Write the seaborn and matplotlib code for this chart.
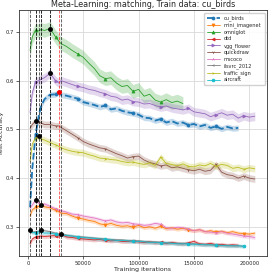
import numpy as np
import pandas as pd
import seaborn as sns
from matplotlib import pyplot as plt

# evaluation iterations (shared grid)
iters = [2000, 4000, 7000, 10000, 12000, 15000, 20000, 25000, 28000, 30000,
         35000, 40000, 45000, 50000, 55000, 60000, 65000, 70000, 75000, 80000,
         85000, 90000, 95000, 100000, 105000, 110000, 115000, 120000, 125000, 130000,
         135000, 140000, 145000, 150000, 155000, 160000, 165000, 170000, 175000, 180000,
         185000, 190000, 195000, 200000, 205000]

cu_birds = [.340, .420, .490, .530, .548, .562, .571, .572, .577, .571,
            .569, .566, .563, .556, .553, .550, .546, .549, .541, .543,
            .538, .535, .533, .530, .524, .523, .518, .521, .514, .517,
            .512, .514, .509, .511, .506, .509, .503, .506, .501, .505,
            .502, .503]
mini_imagenet = [.322, .335, .340, .342, .345, .341, .339, .334, .331, .328,
                 .327, .322, .318, .316, .313, .311, .306, .304, .307, .303,
                 .301, .302, .299, .303, .298, .300, .297, .301, .296, .298,
                 .295, .297, .294, .292, .294, .290, .292, .289, .291, .288,
                 .290, .287, .286, .285, .287]
omniglot = [.662, .690, .704, .702, .705, .703, .707, .690, .681, .676,
            .670, .662, .655, .648, .636, .625, .610, .604, .606, .595,
            .588, .590, .578, .582, .568, .572, .560, .556, .561, .555,
            .558, .553]
dtd = [.265, .275, .279, .280, .281, .280, .281, .282, .283, .285,
       .279, .278, .276, .275, .274, .273, .274, .272, .271, .272,
       .270, .270, .271, .269, .268, .269, .267, .268, .266, .268,
       .266, .265, .267, .270, .265, .264, .266, .263, .264, .262,
       .263, .262]
vgg_flower = [.535, .575, .598, .600, .603, .606, .615, .600, .595, .600,
              .596, .592, .588, .586, .582, .580, .576, .573, .568, .566,
              .560, .562, .557, .556, .552, .553, .549, .546, .548, .544,
              .542, .540, .543, .536, .534, .532, .526, .530, .534, .529,
              .531, .523, .528, .525, .527]
quickdraw = [.502, .510, .517, .515, .513, .510, .510, .507, .507, .504,
             .497, .490, .483, .475, .470, .466, .462, .460, .455, .450,
             .446, .441, .444, .445, .437, .432, .429, .425, .427, .421,
             .423, .420, .417, .415, .418, .414, .416, .428, .412, .407,
             .405, .400, .404, .400, .398]
mscoco = [.338, .345, .355, .348, .345, .347, .342, .337, .334, .333,
          .330, .326, .325, .322, .320, .318, .315, .312, .314, .310,
          .308, .309, .306, .305, .303, .304, .307, .305, .298, .297,
          .299, .298, .295, .292, .294, .290, .289, .288, .290, .287,
          .285, .283, .281, .280, .278]
ilsvrc_2012 = [.290, .289, .290, .291, .294, .292, .290, .287, .285, .284,
               .283, .281, .280, .279, .278, .277, .276, .275, .274, .273,
               .273, .272, .271, .271, .270, .269, .269, .268, .267, .267,
               .266, .266, .265, .265, .264, .264, .263, .263, .262, .262,
               .261, .261, .260]
traffic_sign = [.435, .470, .482, .487, .480, .478, .473, .468, .465, .462,
                .458, .455, .453, .452, .448, .445, .441, .440, .438, .437,
                .434, .432, .433, .430, .428, .431, .426, .443, .430, .428,
                .425, .429, .424, .423, .427, .425, .430, .424, .428, .426,
                .420, .422, .418, .421, .419]
aircraft = [.293, .288, .288, .290, .289, .287, .287, .285, .283, .284,
            .282, .281, .279, .278, .277, .276, .275, .274, .273, .272,
            .272, .271, .270, .270, .269, .268, .268, .267, .267, .266,
            .265, .265, .265, .264, .264, .263, .263, .262, .262, .261,
            .261, .261, .260]

names = ['cu_birds', 'mini_imagenet', 'omniglot', 'dtd', 'vgg_flower',
         'quickdraw', 'mscoco', 'ilsvrc_2012', 'traffic_sign', 'aircraft']
series = [cu_birds, mini_imagenet, omniglot, dtd, vgg_flower,
          quickdraw, mscoco, ilsvrc_2012, traffic_sign, aircraft]
# std over runs (shaded band)
spread = [.006, .004, .014, .004, .009, .007, .004, .003, .007, .004]
train_data = 'cu_birds'

rows = []
for name, vals, sd in zip(names, series, spread):
    for it, v in zip(iters, vals):
        for k in (-1, 0, 1):
            rows.append((name, it, v + k * sd))
df = pd.DataFrame(rows, columns=['dataset', 'iteration', 'accuracy'])

sns.set_theme(style='whitegrid', rc={'axes.edgecolor': '0.2', 'axes.linewidth': 0.6,
                                     'grid.color': '0.85', 'grid.linewidth': 0.6,
                                     'xtick.bottom': True, 'ytick.left': True,
                                     'xtick.major.size': 2, 'ytick.major.size': 2,
                                     'xtick.major.width': 0.5, 'ytick.major.width': 0.5})
plt.rcParams['font.family'] = ['DejaVu Sans']

colors = sns.color_palette('tab10', 10)
markers = ['o', 'v', '^', '<', '>', '1', '2', '3', '4', '8']

fig = plt.figure(figsize=(2.74, 2.73), dpi=100)
ax = fig.add_axes([19 / 274, 1 - 256 / 273, 248 / 274, 246 / 273])

for name, c, m in zip(names, colors, markers):
    sub = df[df.dataset == name]
    is_train = name == train_data
    sns.lineplot(data=sub, x='iteration', y='accuracy', errorbar='sd', ax=ax,
                 color=c, marker=m, markersize=2.2, markevery=(2, 5),
                 markeredgecolor=c, markeredgewidth=0.5,
                 linewidth=1.3 if is_train else 0.6,
                 linestyle='--' if is_train else '-',
                 label=name, err_kws={'alpha': 0.25, 'linewidth': 0})

# best iteration per dataset
for name, vals in zip(names, series):
    i = int(np.argmax(vals))
    col = 'red' if name == train_data else 'black'
    ax.axvline(iters[i], color=col, linestyle='--', linewidth=0.6, alpha=0.7)
    ax.plot(iters[i], vals[i], 'o', color=col, markersize=2.5, zorder=5)

ax.set_xlim(-8000, 216000)
ax.set_ylim(0.24, 0.745)
ax.set_xticks([0, 50000, 100000, 150000, 200000])
ax.set_yticks([0.3, 0.4, 0.5, 0.6, 0.7])
ax.tick_params(labelsize=3.8, pad=1.5)
ax.set_xlabel('Training iterations', fontsize=4.5, labelpad=1)
ax.set_ylabel('Test Accuracy', fontsize=4.5, labelpad=1)
ax.set_title('Meta-Learning: matching, Train data: cu_birds', fontsize=5.8, pad=2)
ax.legend(loc='upper right', fontsize=3.6, frameon=True, labelspacing=0.3,
          handlelength=2.6, borderpad=0.6, framealpha=0.9)

fig.savefig('out.png', dpi=100)
